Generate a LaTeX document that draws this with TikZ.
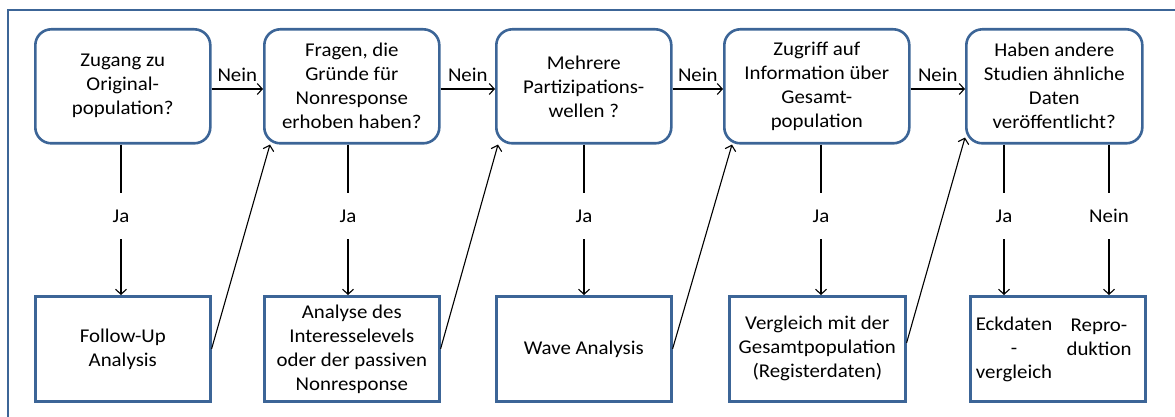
\documentclass[tikz,border=0pt]{standalone}
\usepackage{fontspec}
\setmainfont{Carlito}[FakeStretch=1.07]
\usetikzlibrary{arrows.meta,calc}
\definecolor{bblue}{HTML}{3C6597}
\begin{document}
\begin{tikzpicture}[x=1pt,y=-1pt,
  qbox/.style={draw=bblue,line width=2.6pt,rounded corners=16pt,minimum width=175pt,minimum height=114pt,inner sep=0pt,align=center,anchor=north west},
  abox/.style={draw=bblue,line width=2.6pt,minimum height=105pt,inner sep=0pt,align=center,anchor=north west},
  txt/.style={font=\fontsize{19.5}{24}\selectfont},
  lab/.style={font=\fontsize{19.5}{24}\selectfont,inner sep=0pt,minimum height=46pt},
  arr/.style={line width=1.1pt,-{Straight Barb[length=5pt,width=11pt,line width=1.1pt]}},
  ln/.style={line width=1.1pt}]
\useasboundingbox (0,0) rectangle (1175,417);
\draw[bblue,line width=2.5pt] (1176,10) -- (8,10) -- (8,418);
% top boxes
\node[qbox,txt] (t1) at (34,28) {Zugang zu\\Original-\\population?};
\node[qbox,txt] (t2) at (263,28) {Fragen, die\\Gründe für\\Nonresponse\\erhoben haben?};
\node[qbox,txt] (t3) at (495,28) {Mehrere\\Partizipations-\\wellen ?};
\node[qbox,txt,minimum width=185pt] (t4) at (723,28) {Zugriff auf\\Information über\\Gesamt-\\population};
\node[qbox,txt,minimum width=176pt] (t5) at (965,28) {Haben andere\\Studien ähnliche\\Daten\\veröffentlicht?};
% bottom boxes
\node[abox,txt,minimum width=175pt] (b1) at (34,295) {Follow-Up\\Analysis};
\node[abox,txt,minimum width=175pt] (b2) at (263,295) {Analyse des\\Interesselevels\\oder der passiven\\Nonresponse};
\node[abox,txt,minimum width=175pt] (b3) at (495,295) {Wave Analysis};
\node[abox,txt,minimum width=176pt] (b4) at (728,295) {Vergleich mit der\\Gesamtpopulation\\(Registerdaten)};
\node[abox,minimum width=175pt] (b5) at (969,295) {};
\node[txt,align=center,inner sep=0pt] (e5) at (1014,349) {Eckdaten\\-\\vergleich};
\node[txt,align=center,inner sep=0pt] (r5) at (1099,337) {Repro-\\duktion};
% Ja labels
\node[lab] (j1) at (121,216) {Ja};
\node[lab] (j2) at (348,216) {Ja};
\node[lab] (j3) at (584,216) {Ja};
\node[lab] (j4) at (821,216) {Ja};
\node[lab] (j5) at (1004,216) {Ja};
\node[lab] (n5) at (1109,216) {Nein};
\draw[ln] (j1 |- t1.south) -- (j1.north);
\draw[arr] (j1.south) -- (j1 |- b1.north);
\draw[ln] (j2 |- t2.south) -- (j2.north);
\draw[arr] (j2.south) -- (j2 |- b2.north);
\draw[ln] (j3 |- t3.south) -- (j3.north);
\draw[arr] (j3.south) -- (j3 |- b3.north);
\draw[ln] (j4 |- t4.south) -- (j4.north);
\draw[arr] (j4.south) -- (j4 |- b4.north);
\draw[ln] (j5 |- t5.south) -- (j5.north);
\draw[arr] (j5.south) -- (j5 |- b5.north);
\draw[ln] (n5 |- t5.south) -- (n5.north);
\draw[arr] (n5.south) -- (n5 |- b5.north);
% Nein arrows
\draw[arr] (t1.east |- 0,89) -- node[above=7pt,txt,inner sep=0pt]{Nein} (t2.west |- 0,89);
\draw[arr] (t2.east |- 0,89) -- node[above=7pt,txt,inner sep=0pt]{Nein} (t3.west |- 0,89);
\draw[arr] (t3.east |- 0,89) -- node[above=7pt,txt,inner sep=0pt]{Nein} (t4.west |- 0,89);
\draw[arr] (t4.east |- 0,89) -- node[above=7pt,txt,inner sep=0pt]{Nein} (t5.west |- 0,89);
% diagonal arrows
\draw[arr] (b1.east) -- ($(t2.south west)+(7,0)$);
\draw[arr] (b2.east) -- ($(t3.south west)+(3,0)$);
\draw[arr] (b3.east) -- ($(t4.south west)+(9,0)$);
\draw[arr] ($(b4.east)+(0,-6)$) -- ($(t5.south west)+(0,-7)$);
\end{tikzpicture}
\end{document}
